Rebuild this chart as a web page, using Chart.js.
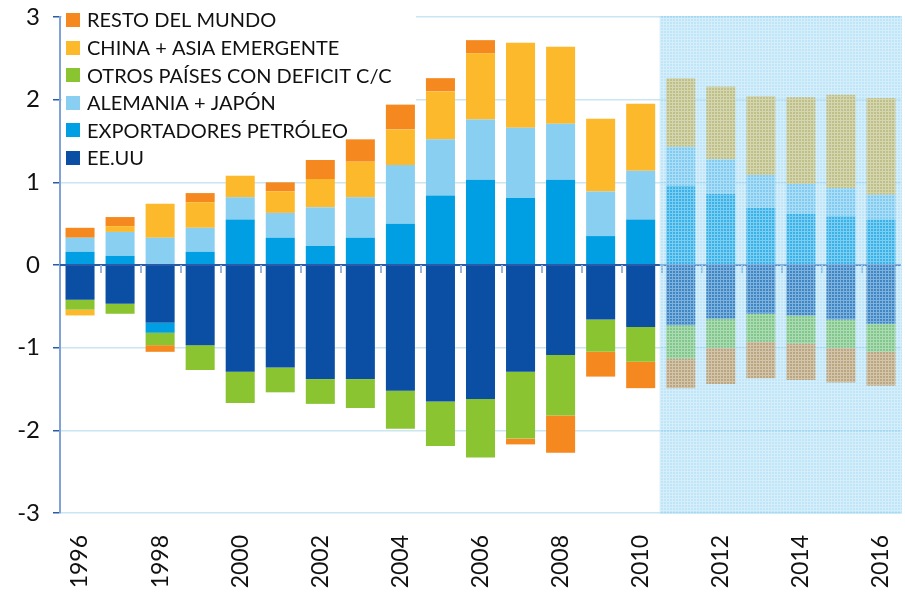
<!DOCTYPE html>
<html>
<head>
<meta charset="utf-8">
<script src="https://cdn.jsdelivr.net/npm/chart.js@4/dist/chart.umd.min.js"></script>
<style>
html,body{margin:0;padding:0;background:#fff;}
#wrap{width:905px;height:594px;}
</style>
</head>
<body>
<div id="wrap"><canvas id="c" width="905" height="594"></canvas></div>
<script>
const years = ['1996','1997','1998','1999','2000','2001','2002','2003','2004','2005','2006','2007','2008','2009','2010','2011','2012','2013','2014','2015','2016'];
const yTicks = [-3,-2,-1,0,1,2,3];
const forecastStart = '2011';

const eeuu        = [-0.42,-0.47,-0.70,-0.97,-1.29,-1.24,-1.38,-1.38,-1.52,-1.65,-1.62,-1.29,-1.09,-0.66,-0.75,-0.73,-0.65,-0.59,-0.61,-0.66,-0.71];
const exportadores= [0.16,0.11,-0.12,0.16,0.55,0.33,0.23,0.33,0.50,0.84,1.03,0.81,1.03,0.35,0.55,0.96,0.86,0.69,0.62,0.59,0.55];
const alemania    = [0.17,0.29,0.33,0.29,0.27,0.30,0.47,0.49,0.71,0.68,0.73,0.85,0.68,0.54,0.59,0.47,0.42,0.40,0.36,0.34,0.30];
const otros       = [-0.12,-0.12,-0.15,-0.30,-0.38,-0.30,-0.30,-0.35,-0.46,-0.54,-0.71,-0.81,-0.73,-0.39,-0.42,-0.40,-0.35,-0.34,-0.34,-0.34,-0.34];
const china       = [-0.07,0.07,0.41,0.31,0.26,0.26,0.34,0.43,0.43,0.58,0.80,1.03,0.93,0.88,0.81,0.83,0.88,0.95,1.05,1.13,1.17];
const resto       = [0.12,0.11,-0.08,0.11,0,0.11,0.23,0.27,0.30,0.16,0.16,-0.07,-0.45,-0.30,-0.32,-0.36,-0.44,-0.44,-0.44,-0.42,-0.41];

const seriesNames = ['EE.UU','EXPORTADORES PETRÓLEO','ALEMANIA + JAPÓN','OTROS PAÍSES CON DEFICIT C/C','CHINA + ASIA EMERGENTE','RESTO DEL MUNDO'];
const seriesColors = ['#0a4fa3','#009fe3','#88cff1','#8ac531','#fdb92c','#f5891f'];
const seriesData = [eeuu, exportadores, alemania, otros, china, resto];

const FONT = 'Lato, "Open Sans", sans-serif';

// forecast hatch pattern
const pc = document.createElement('canvas'); pc.width = 3; pc.height = 3;
const pg = pc.getContext('2d');
pg.fillStyle = 'rgba(120,200,240,0.47)'; pg.fillRect(0,0,3,3);
pg.fillStyle = 'rgba(255,255,255,0.35)'; pg.fillRect(0,0,3,1); pg.fillRect(0,1,1,2);

const overlay = {
  id: 'overlay',
  beforeDatasetsDraw(chart) {
    const ctx = chart.ctx;
    ctx.save();
    ctx.fillStyle = '#ffffff';
    ctx.fillRect(62, 0, 354, 172);
    ctx.restore();
  },
  afterDatasetsDraw(chart) {
    const ctx = chart.ctx, x = chart.scales.x, y = chart.scales.y, a = chart.chartArea;
    const y0 = y.getPixelForValue(0);
    ctx.save();
    // zero line
    ctx.strokeStyle = '#2a5ba8'; ctx.lineWidth = 2;
    ctx.beginPath(); ctx.moveTo(a.left, y0); ctx.lineTo(a.right, y0); ctx.stroke();
    // category boundary ticks below zero line
    ctx.strokeStyle = '#9fb5d9'; ctx.lineWidth = 2;
    const step = x.getPixelForValue(1) - x.getPixelForValue(0);
    for (let i = 1; i < years.length; i++) {
      const px = Math.round(x.getPixelForValue(i) - step / 2) + 1;
      ctx.beginPath(); ctx.moveTo(px, y0); ctx.lineTo(px, y0 + 8); ctx.stroke();
    }
    // forecast shading
    const fi = years.indexOf(forecastStart);
    const fx = x.getPixelForValue(fi) - step / 2 - 1;
    ctx.fillStyle = ctx.createPattern(pc, 'repeat');
    ctx.fillRect(fx, a.top - 1, a.right + 1 - fx, a.bottom - a.top + 2);
    // legend
    ctx.font = '20px ' + FONT;
    ctx.textBaseline = 'middle';
    ctx.textAlign = 'left';
    for (let k = 0; k < seriesNames.length; k++) {
      const i = seriesNames.length - 1 - k;
      const cy = 20 + k * 27.6;
      ctx.fillStyle = seriesColors[i];
      ctx.fillRect(66, Math.round(cy - 7), 14, 14);
      ctx.fillStyle = '#111';
      ctx.fillText(seriesNames[i], 87, cy + 1);
    }
    ctx.restore();
  }
};

new Chart(document.getElementById('c'), {
  type: 'bar',
  data: {
    labels: years,
    datasets: seriesData.map((d, i) => ({
      label: seriesNames[i],
      data: d,
      backgroundColor: seriesColors[i],
      borderWidth: 0,
      categoryPercentage: 1,
      barPercentage: 0.725
    }))
  },
  options: {
    responsive: false,
    animation: false,
    devicePixelRatio: 1,
    layout: { padding: { top: 17, right: 4, left: 0, bottom: 0 } },
    plugins: { legend: { display: false }, tooltip: { enabled: false } },
    scales: {
      x: {
        stacked: true,
        grid: { display: false, drawTicks: false },
        border: { display: false },
        ticks: {
          autoSkip: false, maxRotation: 90, minRotation: 90, padding: 22,
          color: '#111', font: { family: FONT, size: 23 },
          callback: (v, i) => (i % 2 === 0 ? years[i] : '')
        },
        afterFit: s => { s.height = 81; s.paddingLeft = 0; s.paddingRight = 0; }
      },
      y: {
        stacked: true,
        min: yTicks[0], max: yTicks[yTicks.length - 1],
        afterBuildTicks: s => { s.ticks = yTicks.map(v => ({ value: v })); },
        grid: {
          color: c => '#c9e6f2',
          lineWidth: 1.5,
          tickColor: '#2a5ba8',
          tickLength: 7
        },
        border: { color: '#7fa3d9', width: 2 },
        ticks: { padding: 13, color: '#111', font: { family: FONT, size: 24 } },
        afterFit: s => { s.width = 60; s.paddingTop = 0; s.paddingBottom = 0; }
      }
    }
  },
  plugins: [overlay]
});
</script>
</body>
</html>
